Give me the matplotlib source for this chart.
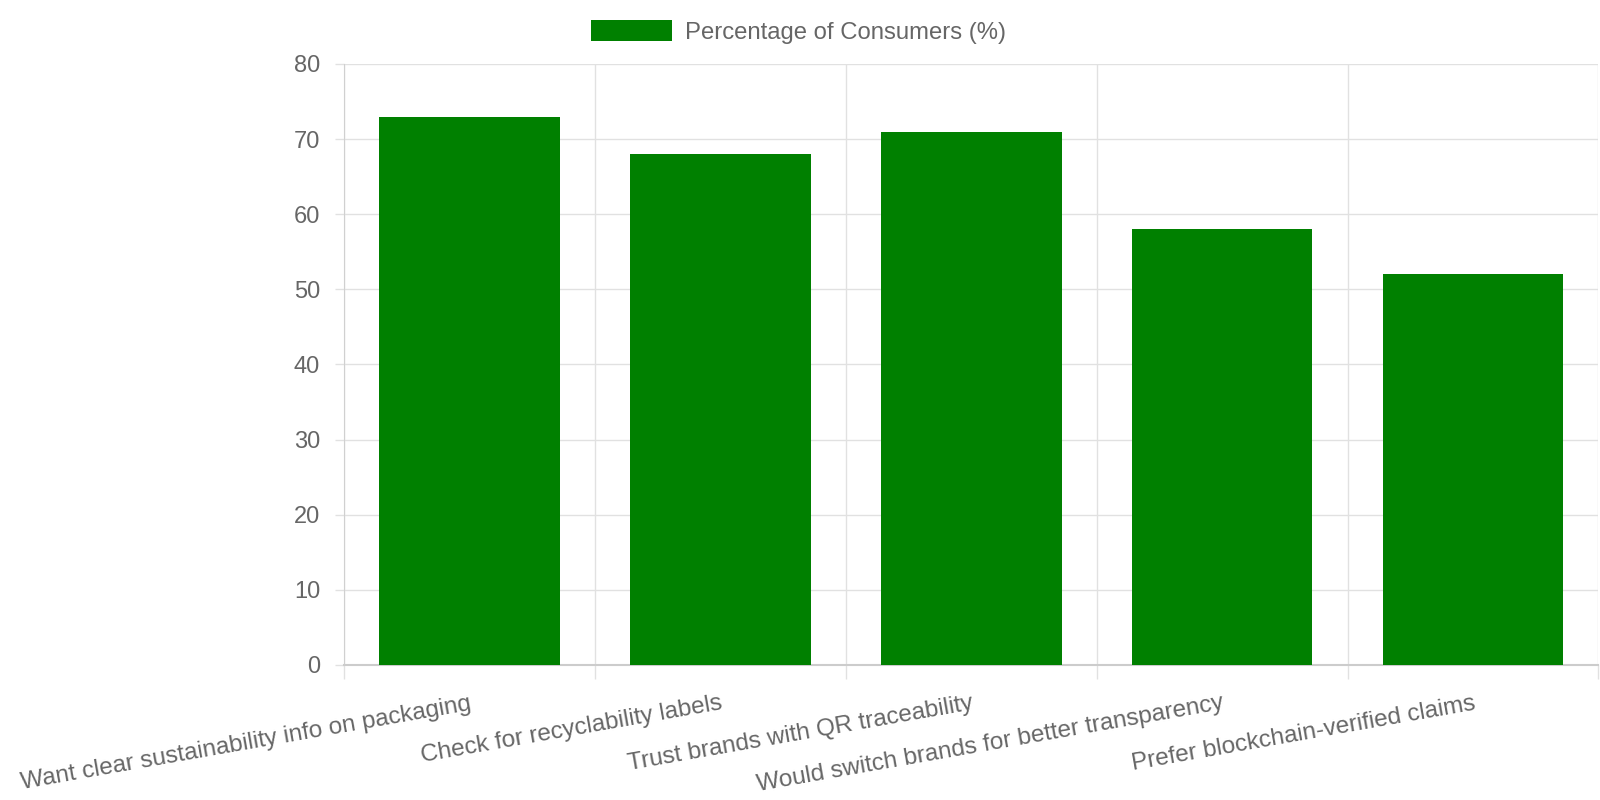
import numpy as np
import matplotlib.pyplot as plt

plt.rcParams['font.family'] = ['Liberation Sans', 'DejaVu Sans']

categories = [
    "Want clear sustainability info on packaging",
    "Check for recyclability labels",
    "Trust brands with QR traceability",
    "Would switch brands for better transparency",
    "Prefer blockchain-verified claims",
]
values = [73, 68, 71, 58, 52]
series_name = "Percentage of Consumers (%)"
y_ticks = [0, 10, 20, 30, 40, 50, 60, 70, 80]

text_col = '#666666'
grid_col = '#e1e1e1'
bar_col = '#008000'

fig = plt.figure(figsize=(16, 8), dpi=100)
ax = fig.add_axes([0.215, 0.169, 0.784, 0.751])

x = np.arange(len(categories))
ax.bar(x, values, width=0.72, color=bar_col, label=series_name, zorder=3)

ax.set_xlim(-0.5, len(categories) - 0.5)
ax.set_ylim(0, 80)
ax.set_yticks(y_ticks)
ax.set_yticklabels([str(t) for t in y_ticks])

# grid lines between categories (offset grid)
ax.set_xticks(np.arange(-0.5, len(categories)), minor=True)
ax.set_xticks(x)
ax.set_xticklabels(categories, rotation=10, ha='right', va='top',
                   rotation_mode='anchor')
ax.grid(True, axis='y', color=grid_col, lw=1, zorder=0)
ax.grid(True, axis='x', which='minor', color=grid_col, lw=1, zorder=0)
ax.tick_params(axis='x', which='major', length=0, pad=20, labelsize=17.5,
               labelcolor=text_col)
ax.tick_params(axis='x', which='minor', length=10, color=grid_col, width=1)
ax.tick_params(axis='y', length=6.6, color=grid_col, width=1, pad=10.5,
               labelsize=17, labelcolor=text_col)

for s in ['top', 'right']:
    ax.spines[s].set_visible(False)
ax.spines['left'].set_color('#d0d0d0')
ax.spines['bottom'].set_color('#cccccc')
ax.spines['bottom'].set_linewidth(1.5)

leg = fig.legend(loc='center', bbox_to_anchor=(0.499, 0.96), frameon=False,
                 fontsize=17.2, handlelength=3.4, handleheight=1.0,
                 handletextpad=0.56)
for t in leg.get_texts():
    t.set_color(text_col)

fig.savefig('out.png', dpi=100)
